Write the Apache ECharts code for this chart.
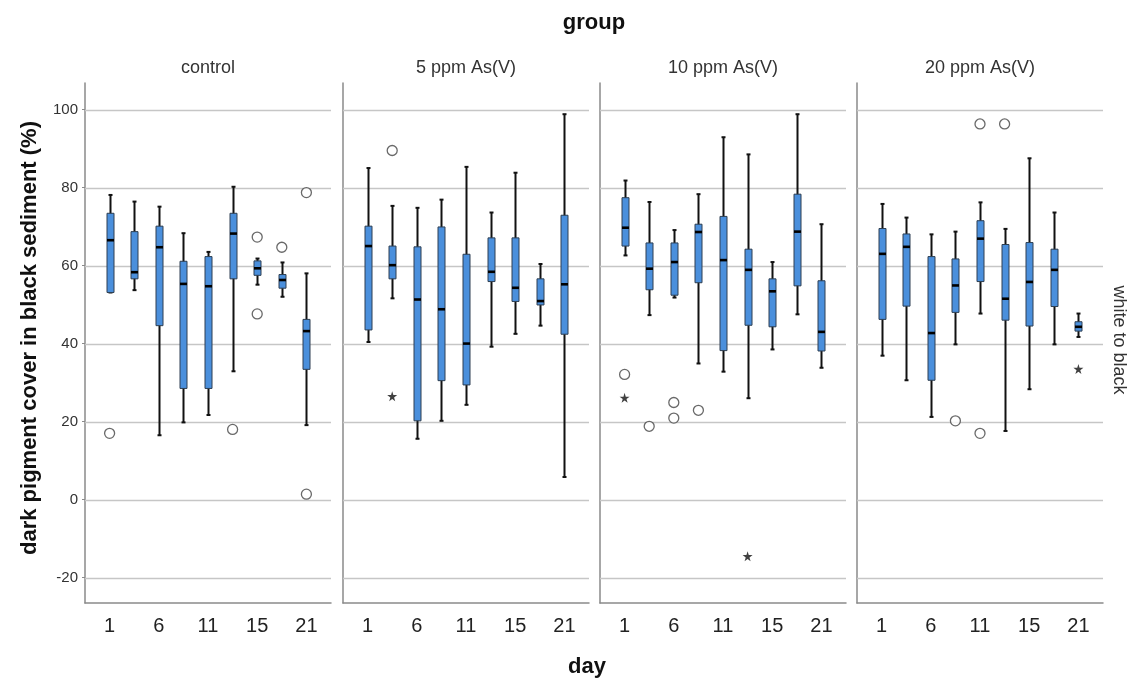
<!DOCTYPE html>
<html>
<head>
<meta charset="utf-8">
<title>Dark pigment cover by day and group</title>
<script src="https://cdn.jsdelivr.net/npm/echarts@6/dist/echarts.min.js"></script>
<style>
  html, body { margin: 0; padding: 0; background: #fff; }
  #chart { width: 1131px; height: 680px; }
</style>
</head>
<body>
<div id="chart"></div>
<script>
// Sampling days and treatment groups
const days = ['1', '3', '6', '8', '11', '13', '15', '18', '21'];
const groups = ['control', '5 ppm As(V)', '10 ppm As(V)', '20 ppm As(V)'];
const yTicks = [-20, 0, 20, 40, 60, 80, 100];

// Box statistics per day: [min, Q1, median, Q3, max]
const controlBoxes = [
  [53.1, 53.1, 66.5, 73.4, 78.1],
  [53.7, 56.6, 58.3, 68.7, 76.4],
  [16.5, 44.6, 64.7, 70.1, 75.1],
  [19.8, 28.5, 55.3, 61.1, 68.3],
  [21.7, 28.5, 54.7, 62.3, 63.5],
  [32.9, 56.6, 68.2, 73.4, 80.2],
  [55.1, 57.5, 59.3, 61.2, 61.8],
  [52.0, 54.2, 56.3, 57.7, 60.8],
  [19.1, 33.4, 43.2, 46.2, 58.0]
];
const ppm5Boxes = [
  [40.4, 43.5, 65.0, 70.1, 85.0],
  [51.6, 56.6, 60.1, 65.0, 75.3],
  [15.6, 20.2, 51.3, 64.8, 74.8],
  [20.2, 30.5, 48.8, 69.9, 76.9],
  [24.3, 29.4, 40.0, 62.9, 85.3],
  [39.2, 55.9, 58.4, 67.1, 73.6],
  [42.5, 50.8, 54.3, 67.1, 83.8],
  [44.6, 49.9, 50.9, 56.6, 60.4],
  [5.8, 42.4, 55.2, 72.9, 98.8]
];
const ppm10Boxes = [
  [62.6, 65.0, 69.7, 77.4, 81.8],
  [47.3, 53.8, 59.2, 65.8, 76.3],
  [51.8, 52.4, 60.9, 65.8, 69.1],
  [34.9, 55.6, 68.6, 70.6, 78.3],
  [32.8, 38.2, 61.4, 72.6, 92.9],
  [26.0, 44.7, 58.9, 64.2, 88.5],
  [38.5, 44.3, 53.4, 56.6, 60.9],
  [47.5, 54.8, 68.7, 78.3, 98.8],
  [33.8, 38.1, 43.0, 56.1, 70.6]
];
const ppm20Boxes = [
  [36.9, 46.2, 63.0, 69.5, 75.8],
  [30.6, 49.6, 64.8, 68.1, 72.3],
  [21.2, 30.6, 42.7, 62.3, 68.0],
  [39.8, 48.0, 54.9, 61.7, 68.7],
  [47.7, 55.9, 66.9, 71.5, 76.2],
  [17.6, 46.0, 51.5, 65.4, 69.4],
  [28.3, 44.5, 55.8, 65.9, 87.5],
  [39.8, 49.5, 58.9, 64.2, 73.6],
  [41.7, 43.2, 44.3, 45.6, 47.7]
];

// Outliers (circles) and extreme values (stars): [day index, value]
const controlOutliers = [[0, 17.0], [5, 18.0], [6, 67.3], [6, 47.6], [7, 64.7], [8, 78.7], [8, 1.4]];
const controlExtremes = [];
const ppm5Outliers = [[1, 89.5]];
const ppm5Extremes = [[1, 26.5]];
const ppm10Outliers = [[0, 32.1], [1, 18.8], [2, 24.9], [2, 20.9], [3, 22.9]];
const ppm10Extremes = [[0, 26.1], [5, -14.5]];
const ppm20Outliers = [[3, 20.2], [4, 96.3], [4, 17.0], [5, 96.3]];
const ppm20Extremes = [[8, 33.5]];

const boxSets = [controlBoxes, ppm5Boxes, ppm10Boxes, ppm20Boxes];
const outlierSets = [controlOutliers, ppm5Outliers, ppm10Outliers, ppm20Outliers];
const extremeSets = [controlExtremes, ppm5Extremes, ppm10Extremes, ppm20Extremes];

// Category axis padded with an empty slot on each side
const axisCats = [''].concat(days, ['']);

const FONT = '"Liberation Sans", Arial, sans-serif';
const panelLefts = [85, 343, 600, 857];
const panelWidth = 246;
const panelTop = 83;
const panelHeight = 520;
const BOX_FILL = '#4a8fdc';
const AXIS_COLOR = '#8a8a8a';

const STAR = 'path://M50,0 L61,35 L98,35 L68,57 L79,91 L50,70 L21,91 L32,57 L2,35 L39,35 Z';

function renderGridLines(params, api) {
  const cs = params.coordSys;
  const y = Math.round(api.coord([0, api.value(1)])[1]) + 0.5;
  return {
    type: 'line',
    shape: { x1: cs.x, y1: y, x2: cs.x + cs.width, y2: y },
    style: { stroke: '#c6c6c6', lineWidth: 1.3 }
  };
}

function renderBox(params, api) {
  const x = api.value(0);
  const pMin = api.coord([x, api.value(1)]);
  const pQ1 = api.coord([x, api.value(2)]);
  const pMed = api.coord([x, api.value(3)]);
  const pQ3 = api.coord([x, api.value(4)]);
  const pMax = api.coord([x, api.value(5)]);
  const cx = Math.round(pMin[0]) + 0.5;
  const hw = 3.5;
  const cap = 2;
  const wStyle = { stroke: '#111', lineWidth: 2 };
  return {
    type: 'group',
    children: [
      { type: 'line', shape: { x1: cx, y1: pMax[1], x2: cx, y2: pMin[1] }, style: wStyle },
      { type: 'line', shape: { x1: cx - cap, y1: pMax[1], x2: cx + cap, y2: pMax[1] }, style: wStyle },
      { type: 'line', shape: { x1: cx - cap, y1: pMin[1], x2: cx + cap, y2: pMin[1] }, style: wStyle },
      {
        type: 'rect',
        shape: { x: cx - hw, y: pQ3[1], width: hw * 2, height: Math.max(pQ1[1] - pQ3[1], 1) },
        style: { fill: BOX_FILL, stroke: '#2e3f52', lineWidth: 1 }
      },
      { type: 'line', shape: { x1: cx - hw, y1: pMed[1], x2: cx + hw, y2: pMed[1] }, style: { stroke: '#000', lineWidth: 2.6 } }
    ]
  };
}

const grids = [], xAxes = [], yAxes = [], series = [];
groups.forEach(function (g, i) {
  grids.push({ left: panelLefts[i], top: panelTop, width: panelWidth, height: panelHeight, containLabel: false });
  xAxes.push({
    gridIndex: i,
    type: 'category',
    data: axisCats,
    boundaryGap: false,
    axisLine: { show: true, onZero: false, lineStyle: { color: AXIS_COLOR, width: 1.5 } },
    axisTick: { show: false },
    splitLine: { show: false },
    axisLabel: {
      interval: function (idx) { return idx % 2 === 1; },
      fontFamily: FONT, fontSize: 20, color: '#222', margin: 13
    }
  });
  yAxes.push({
    gridIndex: i,
    type: 'value',
    min: -26.5,
    max: 106.8,
    axisLine: { show: true, onZero: false, lineStyle: { color: AXIS_COLOR, width: 1.5 } },
    axisTick: { show: i === 0, customValues: yTicks, length: 3, lineStyle: { color: AXIS_COLOR } },
    splitLine: { show: false },
    axisLabel: {
      show: i === 0, customValues: yTicks,
      fontFamily: FONT, fontSize: 15, color: '#333', margin: 7
    }
  });
  series.push({
    type: 'custom', xAxisIndex: i, yAxisIndex: i, z: 1, silent: true,
    renderItem: renderGridLines,
    data: yTicks.map(function (v) { return [0, v]; }),
    encode: { x: 0, y: 1 }
  });
  series.push({
    type: 'custom', xAxisIndex: i, yAxisIndex: i, z: 3,
    renderItem: renderBox,
    data: boxSets[i].map(function (b, d) { return [d + 1].concat(b); }),
    encode: { x: 0, y: [1, 2, 3, 4, 5] }
  });
  series.push({
    type: 'scatter', xAxisIndex: i, yAxisIndex: i, z: 4,
    symbol: 'circle', symbolSize: 10,
    itemStyle: { color: '#fff', borderColor: '#444', borderWidth: 1.3 },
    data: outlierSets[i].map(function (p) { return [p[0] + 1, p[1]]; })
  });
  series.push({
    type: 'scatter', xAxisIndex: i, yAxisIndex: i, z: 4,
    symbol: STAR, symbolSize: 10,
    itemStyle: { color: '#111' },
    data: extremeSets[i].map(function (p) { return [p[0] + 1, p[1]]; })
  });
});

const texts = [
  { type: 'text', x: 594, y: 23, style: { text: 'group', font: 'bold 22px ' + FONT, fill: '#111', textAlign: 'center', textVerticalAlign: 'middle' } },
  { type: 'text', x: 587, y: 667, style: { text: 'day', font: 'bold 22px ' + FONT, fill: '#111', textAlign: 'center', textVerticalAlign: 'middle' } },
  { type: 'text', x: 30, y: 338, rotation: Math.PI / 2, style: { text: 'dark pigment cover in black sediment (%)', font: 'bold 22px ' + FONT, fill: '#111', textAlign: 'center', textVerticalAlign: 'middle' } },
  { type: 'text', x: 1119, y: 340, rotation: -Math.PI / 2, style: { text: 'white to black', font: '18px ' + FONT, fill: '#333', textAlign: 'center', textVerticalAlign: 'middle' } }
];
groups.forEach(function (g, i) {
  texts.push({ type: 'text', x: panelLefts[i] + panelWidth / 2, y: 68, style: { text: g, font: '18px ' + FONT, fill: '#333', textAlign: 'center', textVerticalAlign: 'middle' } });
});

const chart = echarts.init(document.getElementById('chart'), null, { renderer: 'canvas' });
chart.setOption({
  backgroundColor: '#fff',
  animation: false,
  grid: grids,
  xAxis: xAxes,
  yAxis: yAxes,
  series: series,
  graphic: texts
});
</script>
</body>
</html>
